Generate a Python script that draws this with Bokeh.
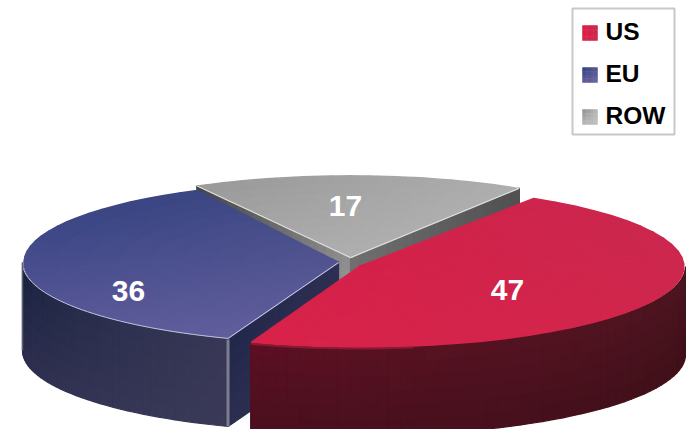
import numpy as np
from bokeh.plotting import figure
from bokeh.models import ColumnDataSource, Range1d
from bokeh.core.properties import value
from bokeh.embed import file_html
from bokeh.resources import INLINE

# ---- data
categories = ["US", "EU", "ROW"]
shares = [47, 36, 17]

# ---- layout of the exploded pie (pixels of the picture)
W, H = 686, 429
centers = {"US": (359, 266), "EU": (338, 262), "ROW": (350, 257)}
radii = {"US": (326, 81), "EU": (316, 81), "ROW": (317, 82)}
starts = {"US": 57.5, "EU": 116.7, "ROW": 119.0}  # degrees, param angle
sweep_scale = {"US": 0.987, "EU": 1.025, "ROW": 1.0}  # perspective distortion
DEPTH = 88
label_pos = {"US": (507, 289), "EU": (128, 290), "ROW": (345, 205)}
FONT = "Liberation Sans"

# ---- colours: corners TL, TR, BL, BR
top_cols = {
    "US": ("#dc1a44", "#c8284f", "#dc2048", "#d2264c"),
    "EU": ("#2d3e7c", "#54568e", "#5f5b9c", "#6a669f"),
    "ROW": ("#8c8c8c", "#b8b8b8", "#b8b8b8", "#c2c2c2"),
}
side_cols = {
    "US": ("#5c1022", "#4a1620", "#4a0f1e", "#3e1018"),
    "EU": ("#16203f", "#383856", "#2c2c4e", "#3a3a58"),
}


def rgb(h):
    return np.array([int(h[i:i + 2], 16) for i in (1, 3, 5)], float)


def mix(cols, u, v):
    u, v = float(np.clip(u, 0, 1)), float(np.clip(v, 0, 1))
    tl, tr, bl, br = [rgb(c) for c in cols]
    c = (tl * (1 - u) + tr * u) * (1 - v) + (bl * (1 - u) + br * u) * v
    return "#%02x%02x%02x" % tuple(int(round(x)) for x in c)


p = figure(width=W, height=H, x_range=Range1d(0, W), y_range=Range1d(H, 0),
           output_backend="svg", toolbar_location=None, min_border=0,
           outline_line_color=None, background_fill_color="white")
p.axis.visible = False
p.grid.visible = False


def draw(xs, ys, cs, lw=1.6):
    src = ColumnDataSource(dict(xs=xs, ys=ys, c=cs))
    p.patches("xs", "ys", source=src, fill_color="c", line_color="c", line_width=lw)


def rim(name, t):
    cx, cy = centers[name]
    rx, ry = radii[name]
    return cx + rx * np.cos(np.radians(t)), cy - ry * np.sin(np.radians(t))


def angles(name):
    s = shares[categories.index(name)] * 3.6 * sweep_scale[name]
    a = starts[name]
    return (a, a - s) if name == "US" else (a, a + s) if name == "EU" else (a - s, a)


def top(name, nr=10, nt=36):
    a0, a1 = angles(name)
    cx, cy = centers[name]
    rx, ry = radii[name]
    ts = np.linspace(a0, a1, nt + 1)
    rs = np.linspace(0, 1, nr + 1)
    xmin = cx - rx
    xmax = cx + rx
    X, Y, C = [], [], []
    ymin, ymax = cy - ry, cy + ry
    for i in range(nt):
        for j in range(nr):
            t0, t1 = np.radians(ts[i]), np.radians(ts[i + 1])
            r0, r1 = rs[j] * .995, rs[j + 1] * .995
            px = [cx + rx * r * np.cos(t) for r, t in ((r0, t0), (r1, t0), (r1, t1), (r0, t1))]
            py = [cy - ry * r * np.sin(t) for r, t in ((r0, t0), (r1, t0), (r1, t1), (r0, t1))]
            X.append(px)
            Y.append(py)
            C.append(mix(top_cols[name], (np.mean(px) - xmin) / (xmax - xmin),
                         (np.mean(py) - ymin) / (ymax - ymin)))
    draw(X, Y, C)


def wall(name, pts, cols, nv=6):
    """Vertical wall hanging below a polyline on the top surface."""
    px, py = pts
    X, Y, C = [], [], []
    n = len(px) - 1
    for i in range(n):
        for j in range(nv):
            v0, v1 = DEPTH * j / nv, DEPTH * (j + 1) / nv
            X.append([px[i], px[i + 1], px[i + 1], px[i]])
            Y.append([py[i] + v0, py[i + 1] + v0, py[i + 1] + v1, py[i] + v1])
            C.append(mix(cols, (i + .5) / n, (j + .5) / nv))
    draw(X, Y, C, lw=1.2)


def edge(xs, ys, color, w):
    p.line(xs, ys, line_color=color, line_width=w)


# ---- ROW, farthest back
a0, a1 = angles("ROW")
xl, yl = rim("ROW", a1)
xr, yr = rim("ROW", a0)
cx, cy = centers["ROW"]
wall("ROW", (np.linspace(xl, cx, 20), np.linspace(yl, cy, 20)), ("#444444", "#8f8f8f", "#444444", "#9a9a9a"))
wall("ROW", (np.linspace(cx, xr, 20), np.linspace(cy, yr, 20)), ("#707070", "#505050", "#707070", "#505050"))
top("ROW")
edge([xl, cx, xr], [yl, cy, yr], "#e4e4e4", 1)

# ---- EU
a0, a1 = angles("EU")
cx, cy = centers["EU"]
ts = np.linspace(180, a1, 40)
rx_, ry_ = rim("EU", ts)
xc, yc = rim("EU", a1)
wall("EU", (np.linspace(xc, cx, 20), np.linspace(yc, cy, 20)), ("#20274a", "#2e2f52", "#2c2e50", "#30304f"))
wall("EU", (rx_, ry_), side_cols["EU"])
top("EU")
edge(rx_, ry_, "#c4c4dc", 1)
edge([xc, cx], [yc, cy], "#d0d0e4", 1)
edge([xc, xc], [yc + 1, yc + DEPTH], "#7c7e90", 3)
xe, ye = rim("EU", 180)
edge([xe, xe], [ye, ye + DEPTH], "#5a6070", 1.5)

# ---- US, in front
a0, a1 = angles("US")
ts = np.linspace(a1, 0, 50)
rx_, ry_ = rim("US", ts)
wall("US", (rx_, ry_), side_cols["US"])
top("US")
n = 14
edge(rx_[:n], ry_[:n] + 1, "#8a1a32", 2)

# ---- slice labels
lx = [label_pos[c][0] for c in categories]
ly = [label_pos[c][1] for c in categories]
p.text(lx, ly, text=[str(s) for s in shares], text_color="white", text_font=value(FONT),
       text_font_style="bold", text_font_size="30px", text_align="center", text_baseline="middle")

# ---- legend
p.quad(left=[572], right=[674], top=[8], bottom=[134], fill_color="white",
       line_color="#c8c8c8", line_width=2)
swatch_y = [25, 67, 109]
SW = 15
for c, y0 in zip(categories, swatch_y):
    X, Y, C = [], [], []
    for i in range(4):
        for j in range(4):
            x0 = 582 + i * SW / 4
            y1 = y0 + j * SW / 4
            X.append([x0, x0 + SW / 4, x0 + SW / 4, x0])
            Y.append([y1, y1, y1 + SW / 4, y1 + SW / 4])
            C.append(mix(top_cols[c], (i + .5) / 4, (j + .5) / 4))
    draw(X, Y, C, lw=0.5)
p.text([605] * 3, [y + 5.5 for y in swatch_y], text=categories, text_color="black",
       text_font=value(FONT), text_font_style="bold", text_font_size="24.5px",
       text_align="left", text_baseline="middle")

open("out.html", "w").write(file_html(p, INLINE))
